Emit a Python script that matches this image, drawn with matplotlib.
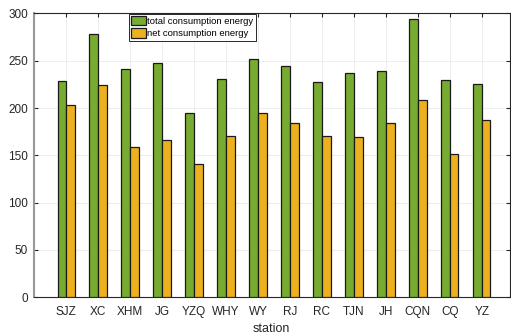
import matplotlib
matplotlib.use("Agg")
import matplotlib.pyplot as plt
import numpy as np

stations = ["SJZ", "XC", "XHM", "JG", "YZQ", "WHY", "WY", "RJ", "RC", "TJN", "JH", "CQN", "CQ", "YZ"]
total_energy = [229, 278, 241, 248, 195, 231, 252, 244, 228, 237, 239, 294, 230, 225]
net_energy = [203, 224, 159, 166, 141, 170, 195, 184, 170, 169, 184, 209, 151, 187]
yticks = [0, 50, 100, 150, 200, 250, 300]

plt.rcParams['font.family'] = ['Liberation Sans', 'DejaVu Sans']

fig = plt.figure(figsize=(5.11, 3.35), dpi=100)
ax = fig.add_axes([0.0656, 0.1125, 0.9324, 0.8475])

x = np.arange(len(stations))
w = 0.27
ax.bar(x - w/2, total_energy, w, color='#77AC30', edgecolor='#1a1a1a', linewidth=0.9,
       label='total consumption energy', zorder=3)
ax.bar(x + w/2, net_energy, w, color='#EDB120', edgecolor='#1a1a1a', linewidth=0.9,
       label='net consumption energy', zorder=3)

ax.set_xlim(-1.02, 13.88)
ax.set_ylim(0, 300)
ax.set_xticks(x)
ax.set_xticklabels(stations)
ax.set_yticks(yticks)
ax.tick_params(direction='in', length=3, width=0.8, labelsize=8.5, colors='#262626',
               top=True, right=True, labelcolor='#262626')
ax.tick_params(axis='x', pad=6.5)
ax.tick_params(axis='y', pad=4)
ax.grid(True, color='#ebebeb', linewidth=0.6, zorder=0)
ax.set_axisbelow(True)
for s in ax.spines.values():
    s.set_color('#262626')
    s.set_linewidth(0.8)
ax.spines['left'].set_color('#999999')
ax.spines['left'].set_linewidth(1.5)

ax.set_xlabel('station', fontsize=9, color='#262626', labelpad=3)

leg = ax.legend(loc='upper left', bbox_to_anchor=(0.2004, 0.998), borderaxespad=0,
                fontsize=6.8, fancybox=False, framealpha=1, edgecolor='#262626',
                handlelength=1.55, handleheight=1.1, handletextpad=0.15,
                borderpad=0.25, labelspacing=0.25)
leg.get_frame().set_linewidth(0.7)

fig.savefig('out.png', dpi=100)
